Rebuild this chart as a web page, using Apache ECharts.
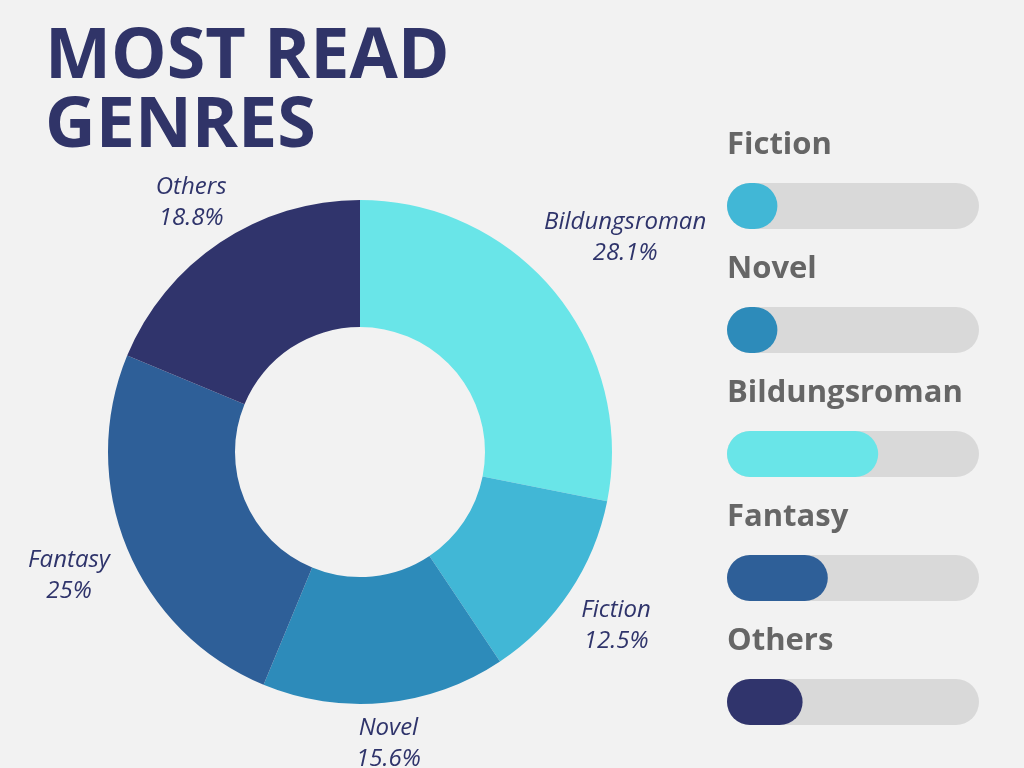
<!DOCTYPE html>
<html>
<head>
<meta charset="utf-8">
<script src="https://cdn.jsdelivr.net/npm/echarts@6/dist/echarts.min.js"></script>
<style>
html,body{margin:0;padding:0;background:#f2f2f2;}
#chart{width:1024px;height:768px;}
</style>
</head>
<body>
<div id="chart"></div>
<script>
// Pie data (shares in 32nds, shown as percentages)
const genres = ['Bildungsroman', 'Fiction', 'Novel', 'Fantasy', 'Others'];
const genreValues = [9, 4, 5, 8, 6];
const genreColors = ['#69e5e8', '#41b7d6', '#2d8bba', '#2e5f98', '#30346c'];

// Progress bars on the right
const barCategories = ['Fiction', 'Novel', 'Bildungsroman', 'Fantasy', 'Others'];
const barValues = [20, 20, 60, 40, 30];
const barColors = ['#41b7d6', '#2d8bba', '#69e5e8', '#2e5f98', '#30346c'];
const barMax = 100;

const pieCenter = [360, 452];
const labelRadius = [343, 308, 290, 315, 304];

const total = genreValues.reduce((a, b) => a + b, 0);

const chart = echarts.init(document.getElementById('chart'));
chart.setOption({
  backgroundColor: '#f2f2f2',
  animation: false,
  title: {
    text: 'MOST READ\nGENRES',
    left: 40,
    top: 19,
    textStyle: {
      fontFamily: 'Open Sans',
      fontWeight: 700,
      fontSize: 70,
      lineHeight: 69,
      color: '#303468'
    }
  },
  grid: {
    left: 727,
    width: 252,
    top: 144,
    height: 620
  },
  xAxis: {
    type: 'value',
    min: 0,
    max: barMax,
    show: false
  },
  yAxis: {
    type: 'category',
    data: barCategories,
    inverse: true,
    show: false
  },
  series: [
    {
      type: 'pie',
      center: pieCenter,
      radius: [125, 252],
      startAngle: 90,
      clockwise: true,
      avoidLabelOverlap: false,
      percentPrecision: 1,
      data: genres.map((g, i) => ({
        name: g,
        value: genreValues[i],
        itemStyle: { color: genreColors[i] }
      })),
      label: {
        show: true,
        position: 'outside',
        formatter: '{b}\n{d}%',
        fontFamily: 'Open Sans',
        fontStyle: 'italic',
        fontWeight: 400,
        fontSize: 24,
        lineHeight: 31,
        color: '#2f346b'
      },
      labelLine: { show: false },
      labelLayout: function (p) {
        const i = p.dataIndex;
        let before = 0;
        for (let k = 0; k < i; k++) before += genreValues[k];
        const midDeg = 90 - (before + genreValues[i] / 2) / total * 360;
        const a = midDeg * Math.PI / 180;
        const r = labelRadius[i];
        return {
          x: pieCenter[0] + r * Math.cos(a),
          y: pieCenter[1] - r * Math.sin(a) + 3,
          align: 'center',
          verticalAlign: 'middle'
        };
      }
    },
    {
      type: 'bar',
      barWidth: 46,
      barGap: '-100%',
      silent: true,
      data: barCategories.map(() => barMax),
      itemStyle: { color: '#d9d9d9', borderRadius: 23 },
      label: {
        show: true,
        position: [0, -38],
        align: 'left',
        verticalAlign: 'middle',
        formatter: '{b}',
        fontFamily: 'Open Sans',
        fontWeight: 700,
        fontSize: 31,
        color: '#666666'
      }
    },
    {
      type: 'bar',
      barWidth: 46,
      barGap: '-100%',
      data: barValues.map((v, i) => ({
        value: v,
        itemStyle: { color: barColors[i], borderRadius: 23 }
      }))
    }
  ]
});
</script>
</body>
</html>
